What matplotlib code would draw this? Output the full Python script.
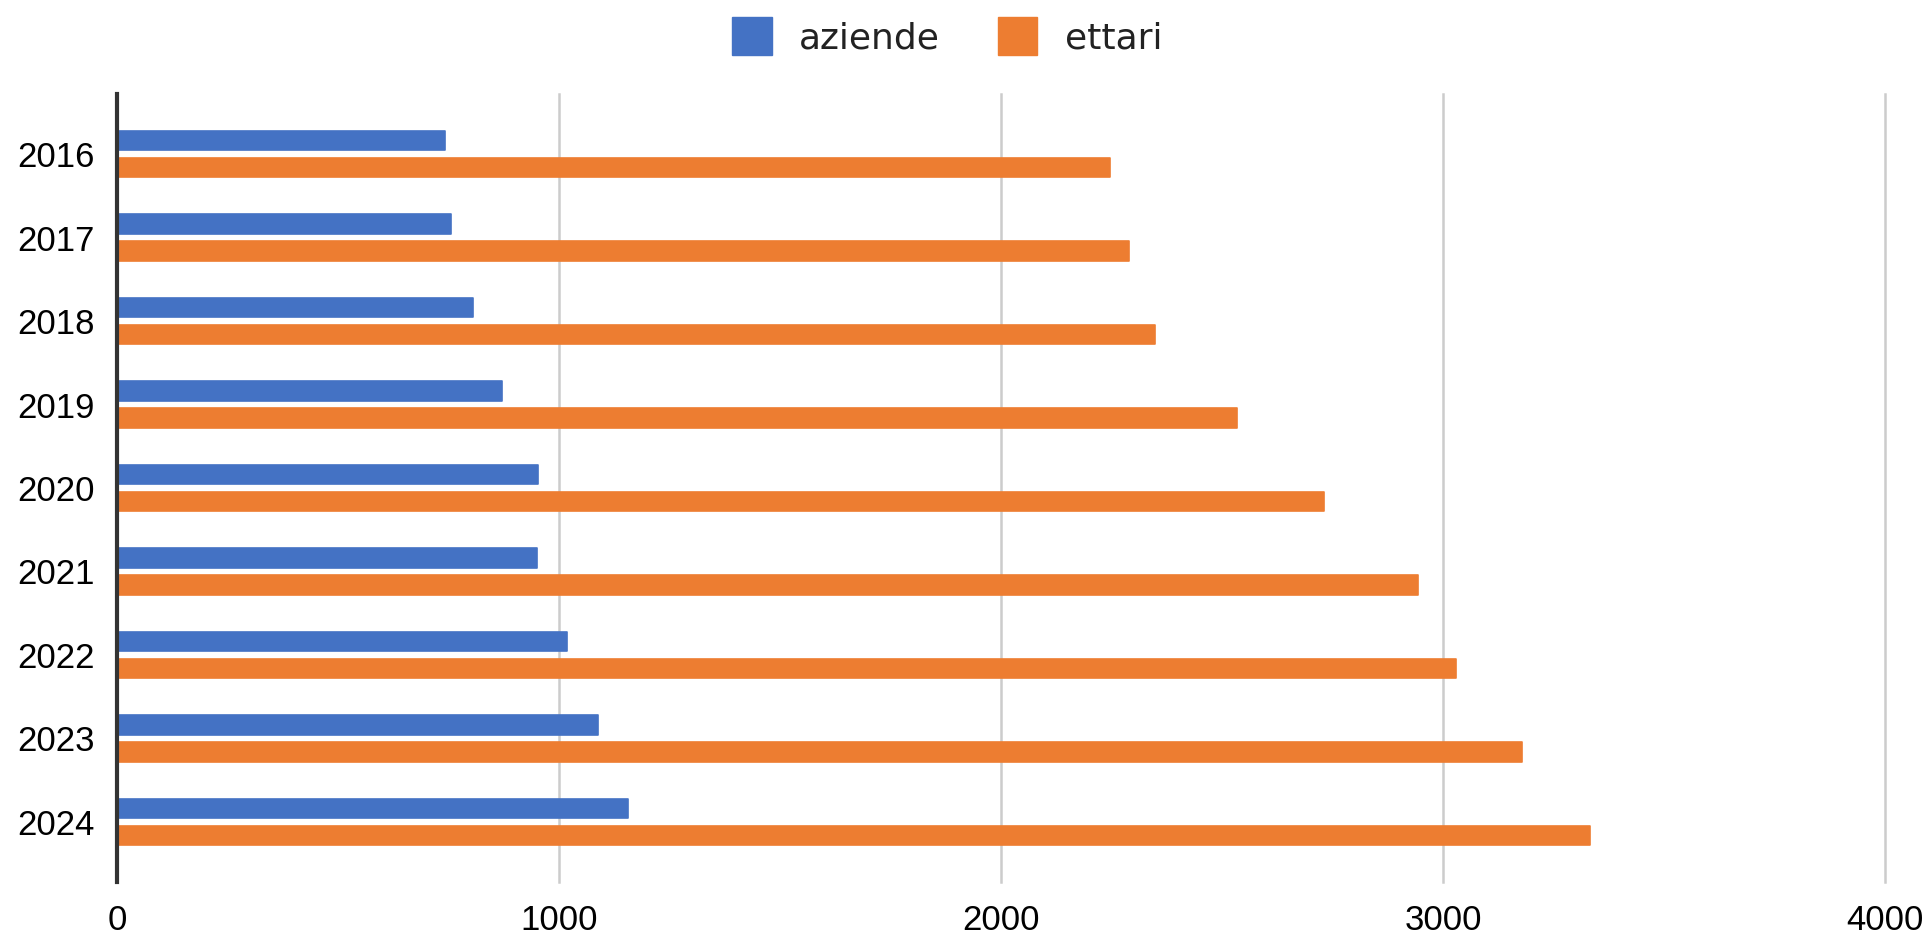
import matplotlib
matplotlib.use("Agg")
import matplotlib.pyplot as plt
import matplotlib.patches as mpatches
import numpy as np

years = ["2016", "2017", "2018", "2019", "2020", "2021", "2022", "2023", "2024"]
aziende = [742, 755, 806, 872, 953, 951, 1018, 1089, 1156]
ettari = [2246, 2290, 2349, 2535, 2730, 2943, 3029, 3179, 3333]
series_names = ["aziende", "ettari"]
xticks = [0, 1000, 2000, 3000, 4000]

c_blue = "#4472C4"
c_orange = "#ED7D31"

fig = plt.figure(figsize=(19.27, 9.34), dpi=100)
ax = fig.add_axes([117/1927, 1-882/934, (1885-117)/1927, (882-94)/934])

y = np.arange(len(years))
h = 0.235
off = 0.162
ax.barh(y - off, aziende, height=h, color=c_blue, edgecolor=c_blue, linewidth=1.2,
        joinstyle="round", zorder=3)
ax.barh(y + off, ettari, height=h, color=c_orange, edgecolor=c_orange, linewidth=1.2,
        joinstyle="round", zorder=3)

ax.set_xlim(0, 4000)
ax.set_ylim(len(years) - 1 + 0.72, -0.72)
ax.set_yticks(y)
ax.set_yticklabels(years, fontfamily="Liberation Sans", fontsize=25, color="#000000")
ax.set_xticks(xticks)
ax.set_xticklabels([str(t) for t in xticks], fontfamily="Liberation Sans", fontsize=25,
                   color="#000000")
ax.tick_params(axis="both", length=0)
ax.tick_params(axis="y", pad=16)
ax.tick_params(axis="x", pad=16)

for s in ["top", "right", "bottom"]:
    ax.spines[s].set_visible(False)
ax.spines["left"].set_color("#333333")
ax.spines["left"].set_linewidth(3)
ax.spines["left"].set_zorder(5)

ax.grid(axis="x", color="#cccccc", linewidth=1.8, zorder=0)
ax.set_axisbelow(True)
for gl in ax.get_xgridlines():
    gl.set_clip_on(False)

handles = [mpatches.Patch(color=c_blue, label=series_names[0]),
           mpatches.Patch(color=c_orange, label=series_names[1])]
leg = fig.legend(handles=handles, loc="center", bbox_to_anchor=(0.4915, 1-36/934), ncol=2,
                 frameon=False, prop={"family": "DejaVu Sans", "size": 26},
                 handlelength=1.1, handleheight=1.25, handletextpad=0.75, columnspacing=1.6)
for t in leg.get_texts():
    t.set_color("#222222")

fig.savefig("out.png", dpi=100)
